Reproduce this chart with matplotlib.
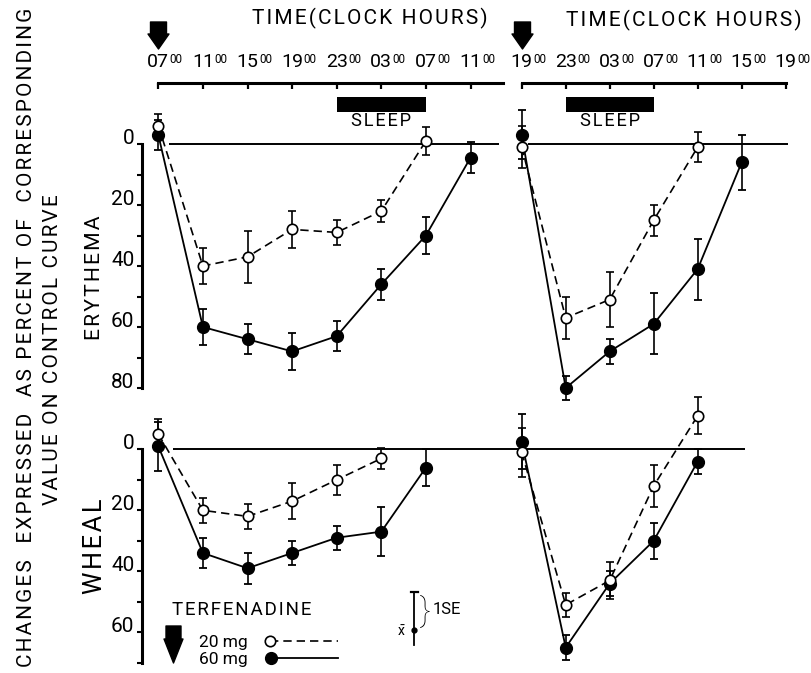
import numpy as np
import matplotlib
matplotlib.use("Agg")
import matplotlib.pyplot as plt
from matplotlib.path import Path
from matplotlib.lines import Line2D
from matplotlib.legend_handler import HandlerLine2D
from matplotlib.transforms import ScaledTranslation

plt.rcParams['font.family'] = ['Roboto', 'DejaVu Sans']
plt.rcParams['font.weight'] = 'normal'

# ---------------- data ----------------
hours = [0, 4, 8, 12, 16, 20, 24, 28]          # hours after dosing
morning_clock = ['07', '11', '15', '19', '23', '03', '07', '11']
evening_clock = ['19', '23', '03', '07', '11', '15', '19']
sleep_morning = [16, 24]   # 23:00 - 07:00, dose at 07:00
sleep_evening = [4, 12]    # 23:00 - 07:00, dose at 19:00
dose_time = 0
dose_labels = ['20 mg', '60 mg']

# Erythema, dose at 07:00
ery_am_20 = [-6, 40, 37, 28, 29, 22, -1]
ery_am_20_se = [4, 6, 8.5, 6, 4, 3.5, 4.5]
ery_am_60 = [-3, 60, 64, 68, 63, 46, 30, 4.5]
ery_am_60_se = [5, 6, 5, 6, 5, 5, 6, 5]
# Erythema, dose at 19:00
ery_pm_20 = [1, 57, 51, 25, 1]
ery_pm_20_se = [7, 7, 9, 5, 5]
ery_pm_60 = [-3, 80, 68, 59, 41, 6]
ery_pm_60_se = [8, 4, 4, 10, 10, 9]
# Wheal, dose at 07:00
wheal_am_20 = [-5, 20, 22, 17, 10, 3]
wheal_am_20_se = [5, 4, 4, 6, 5, 3.5]
wheal_am_60 = [-1, 34, 39, 34, 29, 27, 6]
wheal_am_60_se = [8, 5, 5, 4, 4, 8, 6]
# Wheal, dose at 19:00
wheal_pm_20 = [1, 51, 43, 12, -11]
wheal_pm_20_se = [8, 4, 6, 7, 6]
wheal_pm_60 = [-2.5, 65, 44, 30, 4]
wheal_pm_60_se = [9, 4, 4, 6, 4]

ery_ticks, ery_minor = [0, 20, 40, 60, 80], [10, 30, 50, 70]
wheal_ticks, wheal_minor = [0, 20, 40, 60], [10, 30, 50, 70]

# ---------------- layout ----------------
W, H, DPI = 811, 673, 100
fig = plt.figure(figsize=(W / DPI, H / DPI), dpi=DPI)
fig.patch.set_facecolor('white')

def add_px_axes(x0, y0, x1, y1, **kw):
    return fig.add_axes([x0 / W, 1 - y1 / H, (x1 - x0) / W, (y1 - y0) / H], **kw)

PXU = 3.05                      # pixels per percent unit
L_T0, L_S = 158.3, 11.15        # left panels: x pixel of t=0, px per hour
R_T0, R_S = 521.7, 11.0         # right panels
LX0, LX1, RX0, RX1 = 141.7, 506, 506, 805

def xl(x0, x1, t0, s):
    return ((x0 - t0) / s, (x1 - t0) / s)

def spaced(s, sp='\u200a'):
    return sp.join(s)

def arrow_marker(top, shaft_bot, tip, shaft_hw, head_hw):
    v = [(-shaft_hw, top), (shaft_hw, top), (shaft_hw, shaft_bot), (head_hw, shaft_bot),
         (0, tip), (-head_hw, shaft_bot), (-shaft_hw, shaft_bot), (-shaft_hw, top)]
    codes = [Path.MOVETO] + [Path.LINETO] * (len(v) - 1) + [Path.CLOSEPOLY]
    return Path(v + [v[0]], codes)

DOSE_ARROW = arrow_marker(13.5, 1.5, -13.5, 8, 10.5)
LEG_ARROW = arrow_marker(18.5, 5.5, -18.5, 7.5, 9.5)
PT = 72 / DPI

def panel(x0, x1, y0, y1, zero_px, t0, s, ticks=None, minor=None, bound=None):
    ax = add_px_axes(x0, y0, x1, y1)
    ax.set_xlim(*xl(x0, x1, t0, s))
    ax.set_ylim((y1 - zero_px) / PXU, (y0 - zero_px) / PXU)
    ax.patch.set_visible(False)
    for sp in ['top', 'right', 'bottom']:
        ax.spines[sp].set_visible(False)
    ax.set_xticks([])
    if ticks is not None:
        ax.spines['left'].set_bounds(*bound)
        ax.spines['left'].set_linewidth(2.2)
        ax.set_yticks(ticks)
        ax.set_yticklabels([str(v) for v in ticks])
        ax.set_yticks(minor, minor=True)
        ax.tick_params(axis='y', which='both', direction='out', length=3.8, width=1.5,
                       labelsize=15, pad=1.5)
        for lbl in ax.get_yticklabels():
            lbl.set_verticalalignment('baseline')
    else:
        ax.spines['left'].set_visible(False)
        ax.set_yticks([])
    return ax

ax_ea = panel(LX0, LX1, 95, 400, 144, L_T0, L_S, ery_ticks, ery_minor, (0, 80))
ax_ep = panel(RX0, RX1, 95, 400, 144, R_T0, R_S)
ax_wa = panel(LX0, LX1, 405, 672, 449.3, L_T0, L_S, wheal_ticks, wheal_minor, (0, 70))
ax_wp = panel(RX0, RX1, 405, 672, 449.3, R_T0, R_S)

# baseline (zero) reference lines
ax_ea.hlines(0, 1.0, 30.6, color='black', lw=1.4)
ax_ep.hlines(0, 0.6, 24.2, color='black', lw=1.4)
ax_wa.hlines(0, 1.3, 31.2, color='black', lw=1.4)
ax_wp.hlines(0, -1.5, 20.3, color='black', lw=1.4)

STYLE20 = dict(marker='o', mfc='white', mec='black', mew=1.2, ms=7.5, color='black',
               ls=(0, (5, 3)), lw=1.2)
STYLE60 = dict(marker='o', mfc='black', mec='black', ms=8.5, color='black', ls='-', lw=1.3)

def series(ax, vals, errs, style, z):
    t = hours[:len(vals)]
    cont = ax.errorbar(t, vals, yerr=errs, capsize=3, elinewidth=1.2, capthick=1.3,
                       ecolor='black', zorder=z, **style)
    for art in cont.get_children():
        art.set_clip_on(False)

series(ax_ea, ery_am_60, ery_am_60_se, STYLE60, 3)
series(ax_ea, ery_am_20, ery_am_20_se, STYLE20, 4)
series(ax_ep, ery_pm_60, ery_pm_60_se, STYLE60, 3)
series(ax_ep, ery_pm_20, ery_pm_20_se, STYLE20, 4)
series(ax_wa, wheal_am_60, wheal_am_60_se, STYLE60, 3)
series(ax_wa, wheal_am_20, wheal_am_20_se, STYLE20, 4)
series(ax_wp, wheal_pm_60, wheal_pm_60_se, STYLE60, 3)
series(ax_wp, wheal_pm_20, wheal_pm_20_se, STYLE20, 4)

# ---------------- time axes on top ----------------
TA_Y0, TA_Y1 = 83, 125
def frac(ypx):
    return 1 - (ypx - TA_Y0) / (TA_Y1 - TA_Y0)

fit_list = []

def time_axis(x0, x1, t0, s, labels, sleep, title_x, title_y, tend):
    ax = add_px_axes(x0, TA_Y0, x1, TA_Y1)
    ax.set_xlim(*xl(x0, x1, t0, s))
    ax.set_ylim(0, 1)
    ax.patch.set_visible(False)
    for sp in ['left', 'right', 'bottom']:
        ax.spines[sp].set_visible(False)
    ticks = hours[:len(labels)]
    ax.spines['top'].set_bounds(ticks[0], tend)
    ax.spines['top'].set_linewidth(2.2)
    ax.xaxis.tick_top()
    ax.set_xticks(ticks)
    ax.set_yticks([])
    ax.tick_params(axis='x', direction='in', length=4.5, width=1.6,
                   labeltop=False, labelbottom=False, top=True, bottom=False)
    tr = ax.get_xaxis_transform()
    sup_tr = tr + ScaledTranslation(11.5 / DPI, 0, fig.dpi_scale_trans)
    for t, lab in zip(ticks, labels):
        ax.text(t, frac(67), lab, ha='center', va='baseline', fontsize=14, transform=tr)
        ax.text(t, frac(53), '00', ha='left', va='top', fontsize=8.5, transform=sup_tr)
    ax.axvspan(sleep[0], sleep[1], ymin=frac(112), ymax=frac(97), color='black', lw=0)
    st = ax.text(np.mean(sleep), frac(121.5), spaced('SLEEP'), ha='center', va='center',
                 fontsize=12, transform=tr)
    fit_list.append((st, 60, 'x'))
    ax.plot([dose_time], [frac(34.5)], marker=DOSE_ARROW, ms=27 * PT, color='black',
            ls='None', transform=tr, clip_on=False)
    tt = fig.text(title_x / W, 1 - title_y / H, spaced('TIME(CLOCK HOURS)'),
                  ha='center', va='center', fontsize=14)
    fit_list.append((tt, 236, 'x'))
    return ax

time_axis(LX0, LX1, L_T0, L_S, morning_clock, sleep_morning, 370, 18.5, 30.9)
time_axis(RX0, RX1, R_T0, R_S, evening_clock, sleep_evening, 683.5, 20.5, 24.0)

# ---------------- axis titles ----------------
t1 = fig.text(27 / W, 1 - 337 / H, spaced('CHANGES  EXPRESSED  AS PERCENT OF  CORRESPONDING'),
              rotation=90, ha='center', va='center', fontsize=14)
t2 = fig.text(53 / W, 1 - 350 / H, spaced('VALUE ON CONTROL CURVE'),
              rotation=90, ha='center', va='center', fontsize=14)
t3 = fig.text(94 / W, 1 - 277.5 / H, spaced('ERYTHEMA'), rotation=90,
              ha='center', va='center', fontsize=14)
t4 = fig.text(95 / W, 1 - 546 / H, spaced('WHEAL'), rotation=90,
              ha='center', va='center', fontsize=14)
fit_list += [(t1, 660, 'y'), (t3, 125, 'y'), (t4, 95, 'y')]

# ---------------- legend ----------------
class HandlerMarkerStart(HandlerLine2D):
    def create_artists(self, legend, orig_handle, xdescent, ydescent, width, height,
                       fontsize, trans):
        y = (height - ydescent) / 2
        r = orig_handle.get_markersize() / 2
        x0 = -xdescent + r
        line = Line2D([x0, width - xdescent], [y, y])
        self.update_prop(line, orig_handle, legend)
        line.set_marker('None')
        mark = Line2D([x0], [y])
        self.update_prop(mark, orig_handle, legend)
        mark.set_linestyle('None')
        line.set_transform(trans)
        mark.set_transform(trans)
        return [line, mark]

h20 = Line2D([], [], **STYLE20)
h60 = Line2D([], [], **STYLE60)
leg = ax_wa.legend([h20, h60], dose_labels, loc='upper left',
                   bbox_to_anchor=(199 / W, 1 - 635 / H), bbox_transform=fig.transFigure,
                   frameon=False, markerfirst=False,
                   handler_map={Line2D: HandlerMarkerStart()},
                   handlelength=4.2, handletextpad=1.0, labelspacing=0.12,
                   borderpad=0, borderaxespad=0, fontsize=12.5)

tl = fig.text(171.7 / W, 1 - 610 / H, spaced('TERFENADINE'), ha='left', va='center',
              fontsize=12.5)
fit_list.append((tl, 140, 'x'))

ax_over = fig.add_axes([0, 0, 1, 1], zorder=5)
ax_over.set_xlim(0, W)
ax_over.set_ylim(H, 0)
ax_over.axis('off')
ax_over.patch.set_visible(False)
ax_over.plot([172.5], [643.5], marker=LEG_ARROW, ms=37 * PT, color='black', ls='None')

# 1 SE key
ax_over.plot([414, 414], [592, 645], color='black', lw=1.3)
ax_over.plot([410.5, 417.5], [592, 592], color='black', lw=1.6)
ax_over.plot([414], [630], 'o', color='black', ms=3.5)
ax_over.text(401, 632, r'$\bar{\mathregular{x}}$', ha='center', va='center', fontsize=10)
ax_over.text(425, 611, '}', ha='center', va='center', fontsize=24, fontweight='light')
ax_over.text(433, 610, '1SE', ha='left', va='center', fontsize=12)

# fit long lettered texts to the reference lengths
fig.canvas.draw()
r = fig.canvas.get_renderer()
for txt, target, ax_dir in fit_list:
    bb = txt.get_window_extent(renderer=r)
    cur = bb.width if ax_dir == 'x' else bb.height
    txt.set_fontsize(txt.get_fontsize() * target / cur)
t2.set_fontsize(t1.get_fontsize())

fig.savefig('out.png', dpi=DPI, facecolor='white')
